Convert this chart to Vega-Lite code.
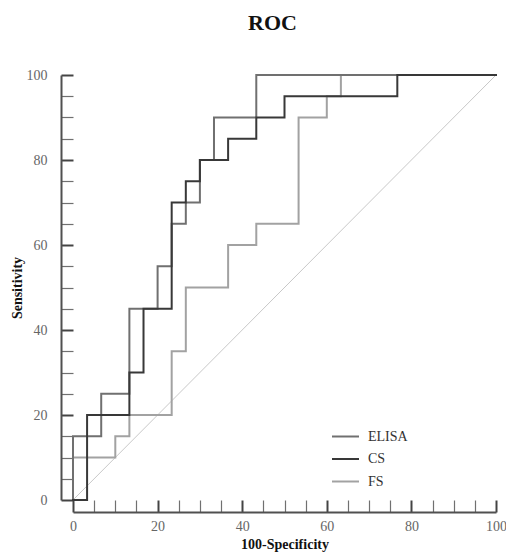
{
  "$schema": "https://vega.github.io/schema/vega-lite/v6.json",
  "width": 423,
  "height": 425,
  "autosize": {"type": "none"},
  "padding": {"left": 73, "top": 75, "right": 10, "bottom": 56},
  "background": "white",
  "title": {
    "text": "ROC",
    "font": "Liberation Serif",
    "fontSize": 22,
    "fontWeight": "bold",
    "color": "#111111",
    "anchor": "middle",
    "dx": -12,
    "offset": 33
  },
  "config": {"view": {"stroke": null}, "font": "Liberation Serif"},
  "datasets": {
    "roc": [
      {"test": "FS", "fpr": 0, "sens": 0},
      {"test": "FS", "fpr": 0, "sens": 10},
      {"test": "FS", "fpr": 10, "sens": 10},
      {"test": "FS", "fpr": 10, "sens": 15},
      {"test": "FS", "fpr": 13.33, "sens": 15},
      {"test": "FS", "fpr": 13.33, "sens": 20},
      {"test": "FS", "fpr": 23.33, "sens": 20},
      {"test": "FS", "fpr": 23.33, "sens": 35},
      {"test": "FS", "fpr": 26.67, "sens": 35},
      {"test": "FS", "fpr": 26.67, "sens": 50},
      {"test": "FS", "fpr": 36.67, "sens": 50},
      {"test": "FS", "fpr": 36.67, "sens": 60},
      {"test": "FS", "fpr": 43.33, "sens": 60},
      {"test": "FS", "fpr": 43.33, "sens": 65},
      {"test": "FS", "fpr": 53.33, "sens": 65},
      {"test": "FS", "fpr": 53.33, "sens": 90},
      {"test": "FS", "fpr": 60, "sens": 90},
      {"test": "FS", "fpr": 60, "sens": 95},
      {"test": "FS", "fpr": 63.33, "sens": 95},
      {"test": "FS", "fpr": 63.33, "sens": 100},
      {"test": "FS", "fpr": 100, "sens": 100},
      {"test": "ELISA", "fpr": 0, "sens": 0},
      {"test": "ELISA", "fpr": 0, "sens": 15},
      {"test": "ELISA", "fpr": 6.67, "sens": 15},
      {"test": "ELISA", "fpr": 6.67, "sens": 25},
      {"test": "ELISA", "fpr": 13.33, "sens": 25},
      {"test": "ELISA", "fpr": 13.33, "sens": 45},
      {"test": "ELISA", "fpr": 20, "sens": 45},
      {"test": "ELISA", "fpr": 20, "sens": 55},
      {"test": "ELISA", "fpr": 23.33, "sens": 55},
      {"test": "ELISA", "fpr": 23.33, "sens": 65},
      {"test": "ELISA", "fpr": 26.67, "sens": 65},
      {"test": "ELISA", "fpr": 26.67, "sens": 70},
      {"test": "ELISA", "fpr": 30, "sens": 70},
      {"test": "ELISA", "fpr": 30, "sens": 80},
      {"test": "ELISA", "fpr": 33.33, "sens": 80},
      {"test": "ELISA", "fpr": 33.33, "sens": 90},
      {"test": "ELISA", "fpr": 43.33, "sens": 90},
      {"test": "ELISA", "fpr": 43.33, "sens": 100},
      {"test": "ELISA", "fpr": 100, "sens": 100},
      {"test": "CS", "fpr": 0, "sens": 0},
      {"test": "CS", "fpr": 3.33, "sens": 0},
      {"test": "CS", "fpr": 3.33, "sens": 20},
      {"test": "CS", "fpr": 13.33, "sens": 20},
      {"test": "CS", "fpr": 13.33, "sens": 30},
      {"test": "CS", "fpr": 16.67, "sens": 30},
      {"test": "CS", "fpr": 16.67, "sens": 45},
      {"test": "CS", "fpr": 23.33, "sens": 45},
      {"test": "CS", "fpr": 23.33, "sens": 70},
      {"test": "CS", "fpr": 26.67, "sens": 70},
      {"test": "CS", "fpr": 26.67, "sens": 75},
      {"test": "CS", "fpr": 30, "sens": 75},
      {"test": "CS", "fpr": 30, "sens": 80},
      {"test": "CS", "fpr": 36.67, "sens": 80},
      {"test": "CS", "fpr": 36.67, "sens": 85},
      {"test": "CS", "fpr": 43.33, "sens": 85},
      {"test": "CS", "fpr": 43.33, "sens": 90},
      {"test": "CS", "fpr": 50, "sens": 90},
      {"test": "CS", "fpr": 50, "sens": 95},
      {"test": "CS", "fpr": 76.67, "sens": 95},
      {"test": "CS", "fpr": 76.67, "sens": 100},
      {"test": "CS", "fpr": 100, "sens": 100}
    ],
    "diag": [
      {"fpr": 0, "sens": 0},
      {"fpr": 100, "sens": 100}
    ]
  },
  "data": {"name": "roc"},
  "encoding": {
    "x": {
      "field": "fpr",
      "type": "quantitative",
      "scale": {"domain": [0, 100], "nice": false, "zero": false},
      "axis": {
        "title": "100-Specificity",
        "values": [0, 5, 10, 15, 20, 25, 30, 35, 40, 45, 50, 55, 60, 65, 70, 75, 80, 85, 90, 95, 100],
        "offset": 12,
        "grid": false,
        "domainColor": "#505050",
        "domainWidth": 2,
        "tickSize": -12,
        "tickWidth": {"condition": {"test": "datum.value % 20 === 0", "value": 2}, "value": 1.2},
        "tickColor": {"condition": {"test": "datum.value % 20 === 0", "value": "#444444"}, "value": "#707070"},
        "labelExpr": "datum.value % 20 === 0 ? datum.label : ''",
        "labelFont": "Liberation Serif",
        "labelFontSize": 14,
        "labelColor": "#666666",
        "labelPadding": 19,
        "labelFlush": false,
        "labelOverlap": false,
        "titleFont": "Liberation Serif",
        "titleFontSize": 14,
        "titleFontWeight": "bold",
        "titleColor": "#111111",
        "titleBaseline": "alphabetic",
        "titleY": 36,
        "encode": {
          "domain": {"update": {"x": {"value": -12}, "x2": {"signal": "width + 10"}}},
          "ticks": {"update": {"y2": {"signal": "datum.value % 20 === 0 ? -12 : -6"}}}
        }
      }
    },
    "y": {
      "field": "sens",
      "type": "quantitative",
      "scale": {"domain": [0, 100], "nice": false, "zero": false},
      "axis": {
        "title": "Sensitivity",
        "values": [0, 5, 10, 15, 20, 25, 30, 35, 40, 45, 50, 55, 60, 65, 70, 75, 80, 85, 90, 95, 100],
        "offset": 12,
        "grid": false,
        "domainColor": "#505050",
        "domainWidth": 2,
        "tickSize": -12,
        "tickWidth": {"condition": {"test": "datum.value % 20 === 0", "value": 2}, "value": 1.2},
        "tickColor": {"condition": {"test": "datum.value % 20 === 0", "value": "#444444"}, "value": "#707070"},
        "labelExpr": "datum.value % 20 === 0 ? datum.label : ''",
        "labelFont": "Liberation Serif",
        "labelFontSize": 14,
        "labelColor": "#666666",
        "labelPadding": 26,
        "labelFlush": false,
        "labelOverlap": false,
        "titleFont": "Liberation Serif",
        "titleFontSize": 14,
        "titleFontWeight": "bold",
        "titleColor": "#111111",
        "titleBaseline": "middle",
        "titleX": -44,
        "encode": {
          "domain": {"update": {"y": {"signal": "height + 12"}, "y2": {"value": -2}}},
          "ticks": {"update": {"x2": {"signal": "datum.value % 20 === 0 ? 12 : 6"}}}
        }
      }
    }
  },
  "layer": [
    {
      "data": {"name": "diag"},
      "mark": {"type": "line", "color": "#c8c8c8", "strokeWidth": 1}
    },
    {
      "transform": [{"filter": "datum.test === 'FS'"}],
      "mark": {"type": "line", "strokeWidth": 2, "strokeJoin": "miter", "strokeCap": "square"},
      "encoding": {
        "order": {"value": null},
        "color": {"field": "test", "type": "nominal"}
      }
    },
    {
      "transform": [{"filter": "datum.test === 'ELISA'"}],
      "mark": {"type": "line", "strokeWidth": 2, "strokeJoin": "miter", "strokeCap": "square"},
      "encoding": {
        "order": {"value": null},
        "color": {"field": "test", "type": "nominal"}
      }
    },
    {
      "transform": [{"filter": "datum.test === 'CS'"}],
      "mark": {"type": "line", "strokeWidth": 2, "strokeJoin": "miter", "strokeCap": "square"},
      "encoding": {
        "order": {"value": null},
        "color": {
          "field": "test",
          "type": "nominal",
          "scale": {"domain": ["ELISA", "CS", "FS"], "range": ["#707070", "#383838", "#a2a2a2"]},
          "legend": {
            "title": null,
            "orient": "none",
            "legendX": 258,
            "legendY": 347,
            "symbolType": "stroke",
            "symbolSize": 729,
            "symbolStrokeWidth": 2,
            "labelFont": "Liberation Serif",
            "labelFontSize": 14,
            "labelColor": "#333333",
            "labelOffset": 8,
            "rowPadding": 0.5
          }
        }
      }
    }
  ]
}
